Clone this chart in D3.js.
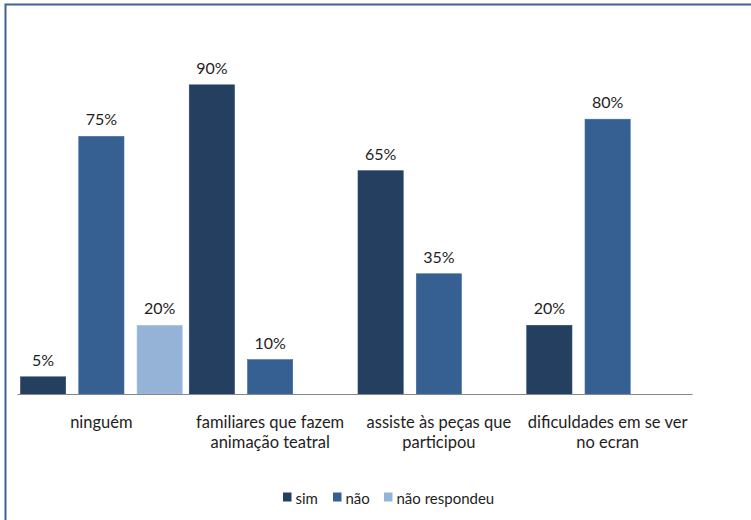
<!DOCTYPE html>
<html>
<head>
<meta charset="utf-8">
<script src="https://cdn.jsdelivr.net/npm/d3@7"></script>
<style>
  html, body { margin: 0; padding: 0; background: #fff; }
  svg { display: block; font-family: Lato, Roboto, sans-serif; }
</style>
</head>
<body>
<svg id="chart" width="751" height="520"></svg>
<script>
// Categories (each may wrap onto two lines)
const categories = [
  ["ninguém"],
  ["familiares que fazem", "animação teatral"],
  ["assiste às peças que", "participou"],
  ["dificuldades em se ver", "no ecran"]
];
const seriesNames = ["sim", "não", "não respondeu"];
const seriesColors = ["#243f60", "#366092", "#95b3d7"];
// Values per series, in category order (null = no bar)
const sim = [0.05, 0.90, 0.65, 0.20];
const nao = [0.75, 0.10, 0.35, 0.80];
const naoRespondeu = [0.20, null, null, null];
const series = [sim, nao, naoRespondeu];

const svg = d3.select("#chart");

// Outer frame
svg.append("rect")
  .attr("x", 5.5).attr("y", 4.5)
  .attr("width", 760).attr("height", 530)
  .attr("fill", "none")
  .attr("stroke", "#3f6196")
  .attr("stroke-width", 2);

const plot = { left: 17, right: 692, top: 50.5, bottom: 394 };

const x0 = d3.scaleBand()
  .domain(d3.range(categories.length))
  .range([plot.left, plot.right])
  .paddingInner(0).paddingOuter(0);

const x1 = d3.scaleBand()
  .domain(d3.range(seriesNames.length))
  .range([3.5, x0.bandwidth() - 3.5])
  .paddingInner(13 / 58).paddingOuter(0);

const y = d3.scaleLinear().domain([0, 1]).range([plot.bottom, plot.top]);

const fmt = d3.format(".0%");

const bars = [];
series.forEach((vals, s) => {
  vals.forEach((v, c) => {
    if (v != null) bars.push({ s, c, v });
  });
});

svg.append("g").selectAll("rect")
  .data(bars)
  .join("rect")
  .attr("x", d => x0(d.c) + x1(d.s))
  .attr("y", d => y(d.v))
  .attr("width", x1.bandwidth())
  .attr("height", d => y(0) - y(d.v))
  .attr("fill", d => seriesColors[d.s])
  .attr("stroke", d => d3.color(seriesColors[d.s]).brighter(0.3))
  .attr("stroke-width", 0.6);

svg.append("g").selectAll("text")
  .data(bars)
  .join("text")
  .attr("x", d => x0(d.c) + x1(d.s) + x1.bandwidth() / 2)
  .attr("y", d => y(d.v) - 11)
  .attr("text-anchor", "middle")
  .attr("font-size", 16)
  .attr("fill", "#1e1e1e")
  .text(d => fmt(d.v));

// Category axis
const xAxis = d3.axisBottom(x0).tickSize(0).tickFormat("");
const axisG = svg.append("g")
  .attr("transform", `translate(0,${plot.bottom})`)
  .call(xAxis);
axisG.select(".domain").attr("stroke", "#868686").attr("stroke-width", 1.2);

const catG = svg.append("g").selectAll("text")
  .data(categories)
  .join("text")
  .attr("x", (d, i) => x0(i) + x0.bandwidth() / 2)
  .attr("y", plot.bottom + 34)
  .attr("text-anchor", "middle")
  .attr("font-size", 16.5)
  .attr("fill", "#1e1e1e");
catG.selectAll("tspan")
  .data(d => d)
  .join("tspan")
  .attr("x", function () { return d3.select(this.parentNode).attr("x"); })
  .attr("dy", (d, i) => i === 0 ? 0 : 20)
  .text(d => d);

// Legend
const legendX = [283, 333, 384];
const legend = svg.append("g").selectAll("g")
  .data(seriesNames)
  .join("g")
  .attr("transform", (d, i) => `translate(${legendX[i]},492.5)`);
legend.append("rect")
  .attr("width", 8.5).attr("height", 9)
  .attr("fill", (d, i) => seriesColors[i]);
legend.append("text")
  .attr("x", 12.5).attr("y", 11.5)
  .attr("font-size", 15)
  .attr("fill", "#1e1e1e")
  .text(d => d);
</script>
</body>
</html>
